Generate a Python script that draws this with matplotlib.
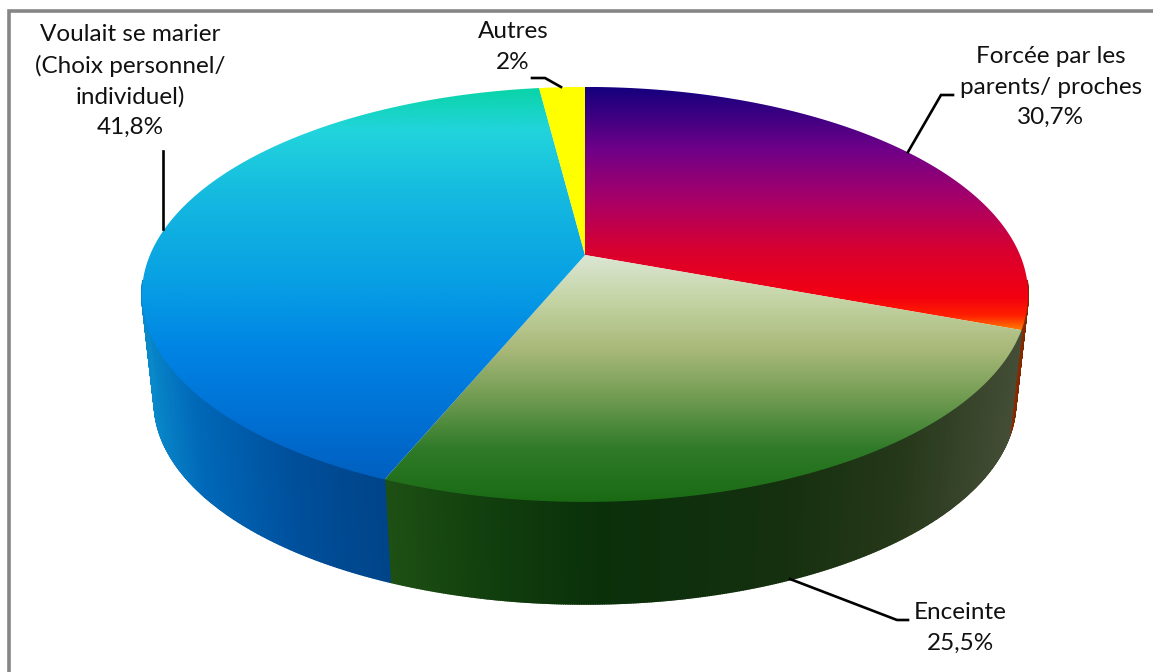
import numpy as np
from matplotlib import pyplot as plt
from matplotlib.colors import LinearSegmentedColormap
from matplotlib.patches import Polygon

categories = ['Forcée par les\nparents/ proches', 'Enceinte',
              'Voulait se marier\n(Choix personnel/\nindividuel)', 'Autres']
values = [30.7, 25.5, 41.8, 2]

# the pie is a circle seen in perspective, all in picture pixels
CX, CY = 585, 255
A, B, K = 435, 200, 0.19
DROP, SHRINK = 109, 0.972


def top_rim(theta):
    u, v = np.sin(theta), np.cos(theta)
    w = 1 + K * v
    return CX + A * u / w, CY - B * v / w


def bottom_rim(theta):
    x, y = top_rim(theta)
    return CX + SHRINK * (x - CX), CY + DROP + SHRINK * (y - CY)


def ramp(stops, lo, hi):
    pts = [((p - lo) / (hi - lo), c) for p, c in stops]
    return LinearSegmentedColormap.from_list('r', pts, N=256)


# top face colours, by y in pixels
top_stops = [
    [(87, '#14007e'), (150, '#700088'), (200, '#a80068'), (250, '#d80030'),
     (298, '#f40010'), (316, '#ff2000'), (332, '#ff8800')],
    [(255, '#dce6d4'), (300, '#c4d4a4'), (350, '#a8b878'), (400, '#6e9a50'),
     (450, '#2e7a28'), (503, '#1a6a14')],
    [(88, '#0ad4a8'), (130, '#22d4dc'), (200, '#14b8e0'), (280, '#08a0e4'),
     (350, '#0084e4'), (420, '#0070d4'), (480, '#0060c0')],
    [(87, '#ffff00'), (255, '#ffff00')],
]
# side colours, by x in pixels
side_stops = [
    [(1005, '#a03000'), (1030, '#6e2200')],
    [(386, '#1e5014'), (480, '#12400e'), (600, '#0a300a'), (780, '#15300f'),
     (900, '#26381a'), (1022, '#464f38')],
    [(142, '#0a8ccc'), (200, '#0068b8'), (300, '#004e9a'), (390, '#004488')],
    [(0, '#b0b000'), (1153, '#b0b000')],
]

plt.rcParams['font.family'] = 'Lato'
fig = plt.figure(figsize=(11.53, 6.72), dpi=100)
ax = fig.add_axes([0, 0, 1, 1])

# frame, only left and top show
ax.plot([8.5, 8.5, 1153], [672, 10.5, 10.5], color='#868686', lw=2.6, solid_joinstyle='miter')

edges = np.radians(np.cumsum([0] + values) * 3.6)

# sides first, small quads coloured from left to right
for i in range(len(values)):
    t1, t2 = edges[i], edges[i + 1]
    # only the front part can be seen
    t1, t2 = max(t1, np.radians(97)), min(t2, np.radians(263))
    if t2 <= t1:
        continue
    ts = np.linspace(t1, t2, int(np.degrees(t2 - t1) * 4) + 2)
    xs = [s[0] for s in side_stops[i]]
    cmap = ramp(side_stops[i], min(xs), max(xs))
    for a, b in zip(ts[:-1], ts[1:]):
        xa, ya = top_rim(a)
        xb, yb = top_rim(b)
        xc, yc = bottom_rim(b)
        xd, yd = bottom_rim(a)
        f = np.clip(((xa + xb + xc + xd) / 4 - min(xs)) / (max(xs) - min(xs)), 0, 1)
        col = cmap(f)
        ax.add_patch(Polygon([(xa, ya), (xb, yb), (xc, yc), (xd, yd)], closed=True,
                             fc=col, ec=col, lw=1.1, zorder=2))

# top face, vertical gradient clipped to each slice
for i in range(len(values)):
    ts = np.linspace(edges[i], edges[i + 1], 300)
    x, y = top_rim(ts)
    poly = Polygon(np.column_stack([np.r_[CX, x], np.r_[CY, y]]), closed=True,
                   fc='none', ec='none', transform=ax.transData)
    ax.add_patch(poly)
    ps = [s[0] for s in top_stops[i]]
    lo, hi = min(ps), max(ps)
    im = ax.imshow(np.linspace(0, 1, 256).reshape(-1, 1), cmap=ramp(top_stops[i], lo, hi),
                   extent=[0, 1153, hi, lo], aspect='auto', zorder=3, vmin=0, vmax=1)
    im.set_clip_path(poly)

# leader lines
leaders = [
    ([953, 941, 908], [95, 95, 152]),
    ([790, 897, 908], [579, 620, 620]),
    ([163, 163], [151, 229]),
    ([532, 545, 561], [78, 78, 87]),
]
for lx, ly in leaders:
    ax.plot(lx, ly, color='black', lw=1.9, zorder=4, solid_joinstyle='miter')

# labels
label_pos = [(1051, 87), (960, 628), (130, 81), (513, 47)]
for name, val, (tx, ty) in zip(categories, values, label_pos):
    txt = name + '\n' + f'{val:g}'.replace('.', ',') + '%'
    ax.text(tx, ty, txt, ha='center', va='center', fontsize=17.5, color='#111111',
            linespacing=1.54, zorder=5)

ax.set_xlim(0, 1153)
ax.set_ylim(672, 0)
ax.axis('off')
fig.savefig('out.png', dpi=100, facecolor='white')
